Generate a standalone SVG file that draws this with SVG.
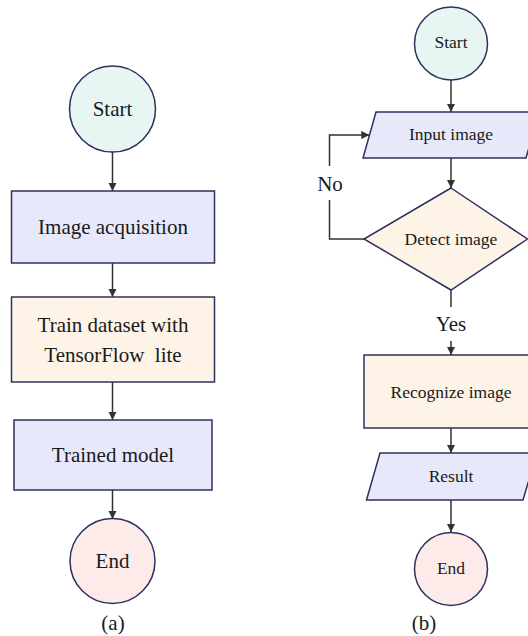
<svg xmlns="http://www.w3.org/2000/svg" width="528" height="636" viewBox="0 0 528 636">
<style>
.shape{stroke:#2e3160;stroke-width:1.5}
.start{fill:#e8f6f3}
.end{fill:#fdebea}
.blue{fill:#e7e9fb}
.orange{fill:#fdf3e7}
text{font-family:'Liberation Serif','DejaVu Serif',serif;fill:#1a1a1a;text-anchor:middle}
.big{font-size:21px}
.sm{font-size:17.5px}
.conn{stroke:#333;stroke-width:1.5;fill:none}
</style>
<defs>
<marker id="ah" viewBox="0 0 10 10" refX="10" refY="5" markerWidth="5.5" markerHeight="5.5" orient="auto" markerUnits="strokeWidth">
<path d="M0,0 L10,5 L0,10 z" fill="#333"/>
</marker>
</defs>
<rect width="528" height="636" fill="#fff"/>
<g id="connectors">
<path class="conn" d="M112.5,152 V191" marker-end="url(#ah)"/>
<path class="conn" d="M112.5,263 V297" marker-end="url(#ah)"/>
<path class="conn" d="M112.5,382 V420" marker-end="url(#ah)"/>
<path class="conn" d="M112.5,490 V519" marker-end="url(#ah)"/>
<path class="conn" d="M451,80 V112" marker-end="url(#ah)"/>
<path class="conn" d="M451,158 V188" marker-end="url(#ah)"/>
<path class="conn" d="M451,290 V307"/>
<path class="conn" d="M451,341 V355" marker-end="url(#ah)"/>
<path class="conn" d="M451,428 V453" marker-end="url(#ah)"/>
<path class="conn" d="M451,500 V532" marker-end="url(#ah)"/>
<path class="conn" d="M364,239 H329.5 V200"/>
<path class="conn" d="M329.5,166 V135 H369.5" marker-end="url(#ah)"/>
<text class="big" x="330" y="191" font-family="Liberation Serif, serif">No</text>
<text class="big" x="451" y="331" font-family="Liberation Serif, serif">Yes</text>
</g>
<g id="a-start"><circle class="shape start" cx="112.5" cy="109" r="43"/><text class="big" x="112.5" y="116">Start</text></g>
<g id="a-acq"><rect class="shape blue" x="11.5" y="191" width="203" height="72"/><text class="big" x="113" y="234">Image acquisition</text></g>
<g id="a-train"><rect class="shape orange" x="11.5" y="297" width="203" height="85"/><text class="big" x="113" y="332">Train dataset with</text><text class="big" x="113" y="362" xml:space="preserve">TensorFlow  lite</text></g>
<g id="a-model"><rect class="shape blue" x="14" y="420" width="198" height="70"/><text class="big" x="113" y="462">Trained model</text></g>
<g id="a-end"><circle class="shape end" cx="112.5" cy="561" r="42.5"/><text class="big" x="112.5" y="568">End</text></g>
<text class="big" x="113" y="630">(a)</text>
<g id="b-start"><circle class="shape start" cx="451" cy="43.5" r="36.5"/><text class="sm" x="451" y="48">Start</text></g>
<g id="b-input"><polygon class="shape blue" points="376,112 539,112 526,158 363,158"/><text class="sm" x="451" y="140">Input image</text></g>
<g id="b-detect"><polygon class="shape orange" points="451,188 527.5,239 451,290 364,239"/><text class="sm" x="451" y="245">Detect image</text></g>
<g id="b-recog"><rect class="shape orange" x="364" y="355" width="174" height="73"/><text class="sm" x="451" y="398">Recognize image</text></g>
<g id="b-result"><polygon class="shape blue" points="380,453 537,453 523,500 366.5,500"/><text class="sm" x="451" y="482">Result</text></g>
<g id="b-end"><circle class="shape end" cx="451" cy="569" r="36.5"/><text class="sm" x="451" y="574">End</text></g>
<text class="big" x="424" y="630">(b)</text>
</svg>
